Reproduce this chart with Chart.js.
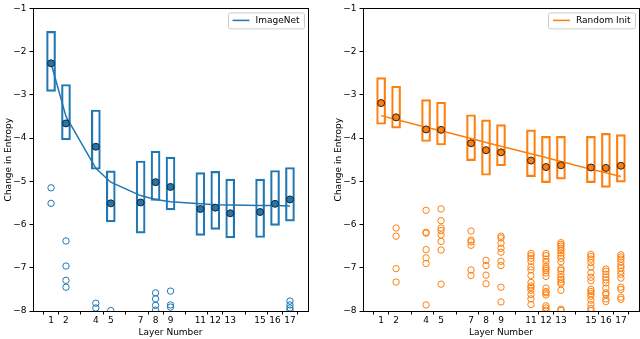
<!DOCTYPE html>
<html>
<head>
<meta charset="utf-8">
<script src="https://cdn.jsdelivr.net/npm/chart.js@4"></script>
<style>
  body { margin: 0; background: #fff; }
  .panel { position: absolute; top: 0; }
</style>
</head>
<body>
<div class="panel" style="left:0px"><canvas id="izq" width="320" height="339"></canvas></div>
<div class="panel" style="left:330px"><canvas id="der" width="310" height="339"></canvas></div>
<script>
// capas del eje x (tambien son las etiquetas)
const layers = [1, 2, 4, 5, 7, 8, 9, 11, 12, 13, 15, 16, 17];
const yTicks = [-8, -7, -6, -5, -4, -3, -2, -1];

// ImageNet
const inBoxLow = [-2.92, -4.04, -4.72, -5.94, -6.20, -5.44, -5.66, -6.25, -6.11, -6.31, -6.30, -6.02, -5.92];
const inBoxHigh = [-1.53, -2.76, -3.35, -4.76, -4.53, -4.30, -4.44, -4.80, -4.77, -4.95, -4.95, -4.75, -4.68];
const inMean = [-2.27, -3.66, -4.20, -5.51, -5.49, -5.02, -5.13, -5.64, -5.61, -5.74, -5.71, -5.52, -5.42];
const inFit = [-2.27, -3.50, -4.70, -5.02, -5.33, -5.42, -5.47, -5.52, -5.54, -5.55, -5.56, -5.56, -5.57];
const inOutliers = [
  [-5.15, -5.51],
  [-6.38, -6.96, -7.29, -7.45],
  [-7.82, -7.93],
  [-7.99],
  [],
  [-7.58, -7.72, -7.87, -7.98],
  [-7.54, -7.86, -7.91],
  [], [], [], [], [],
  [-7.77, -7.86, -7.93, -7.98]
];

// Random Init
const rnBoxLow = [-3.68, -3.77, -4.08, -4.16, -4.52, -4.86, -4.64, -4.89, -5.03, -4.95, -5.03, -5.14, -5.02];
const rnBoxHigh = [-2.60, -2.80, -3.11, -3.17, -3.46, -3.58, -3.69, -3.81, -3.96, -3.96, -3.96, -3.89, -3.92];
const rnMean = [-3.19, -3.52, -3.80, -3.81, -4.12, -4.28, -4.33, -4.52, -4.67, -4.63, -4.68, -4.69, -4.64];
const rnFit = [-3.48, -3.57, -3.75, -3.83, -4.01, -4.10, -4.19, -4.36, -4.45, -4.54, -4.72, -4.80, -4.89];
const rnOutliers = [
  [],
  [-6.08, -6.27, -7.02, -7.33],
  [-5.67, -6.18, -6.20, -6.58, -6.77, -6.90, -7.86],
  [-5.64, -5.91, -6.08, -6.14, -6.24, -6.39, -6.59, -7.38],
  [-6.15, -6.36, -6.40, -6.48, -7.05, -7.18],
  [-6.83, -6.95, -7.17, -7.37],
  [-6.27, -6.31, -6.43, -6.55, -6.64, -6.85, -6.95, -7.45, -7.79],
  [-6.67, -6.72, -6.78, -6.85, -6.98, -7.05, -7.18, -7.34, -7.42, -7.46, -7.52, -7.62, -7.72, -7.85],
  [-6.67, -6.72, -6.80, -6.87, -6.97, -7.02, -7.06, -7.12, -7.20, -7.47, -7.55, -7.58, -7.63, -7.88, -7.93, -7.98],
  [-6.42, -6.46, -6.50, -6.55, -6.60, -6.66, -6.72, -6.78, -6.86, -7.02, -7.06, -7.15, -7.22, -7.27, -7.33, -7.37, -7.52, -7.96, -7.99],
  [-6.69, -6.74, -6.80, -6.88, -6.98, -7.12, -7.22, -7.30, -7.50, -7.55, -7.60, -7.66, -7.75, -7.85, -7.94, -7.99],
  [-7.03, -7.08, -7.15, -7.22, -7.28, -7.35, -7.47, -7.58, -7.62, -7.72, -7.78],
  [-6.70, -6.75, -6.80, -6.87, -6.95, -7.00, -7.08, -7.15, -7.24, -7.45, -7.50, -7.68, -7.73]
];

const FONT = "'DejaVu Sans', sans-serif";
Chart.defaults.font.family = FONT;
Chart.defaults.font.size = 9;
Chart.defaults.color = '#000';

// marco negro alrededor del area + leyenda arriba a la derecha (como matplotlib)
const marco = {
  id: 'marco',
  afterDraw(chart) {
    const ctx = chart.ctx;
    const a = chart.chartArea;
    ctx.save();
    ctx.strokeStyle = '#000';
    ctx.lineWidth = 1;
    ctx.strokeRect(Math.round(a.left) + 0.5, Math.round(a.top) + 0.5, Math.round(a.right - a.left), Math.round(a.bottom - a.top));

    const ds = chart.data.datasets.find(d => d.type === 'line');
    ctx.font = '9px ' + FONT;
    const tw = ctx.measureText(ds.label).width;
    const frameRight = a.right - 4.5;
    const textEnd = frameRight - 4;
    const textStart = textEnd - tw;
    const lineEnd = textStart - 6;
    const lineStart = lineEnd - 17;
    const frameLeft = lineStart - 5;
    const cy = a.top + 12;
    ctx.strokeStyle = '#ccc';
    ctx.beginPath();
    ctx.roundRect(Math.round(frameLeft) + 0.5, a.top + 4.5, Math.round(frameRight - frameLeft), 16, 2);
    ctx.stroke();
    ctx.strokeStyle = ds.borderColor;
    ctx.lineWidth = 1.5;
    ctx.beginPath();
    ctx.moveTo(lineStart, cy);
    ctx.lineTo(lineEnd, cy);
    ctx.stroke();
    ctx.fillStyle = '#000';
    ctx.textBaseline = 'middle';
    ctx.fillText(ds.label, textStart, cy);
    ctx.restore();
  }
};

function makePanel(id, label, color, boxLow, boxHigh, means, fit, outliers, padRight) {
  const boxes = layers.map((l, i) => ({ x: l, y: [boxLow[i], boxHigh[i]] }));
  const dots = layers.map((l, i) => ({ x: l, y: means[i] }));
  const curve = layers.map((l, i) => ({ x: l, y: fit[i] }));
  const flier = [];
  layers.forEach((l, i) => outliers[i].forEach(v => flier.push({ x: l, y: v })));

  return new Chart(document.getElementById(id), {
    type: 'bar',
    data: {
      datasets: [
        { type: 'scatter', label: 'mean', data: dots, order: 0,
          pointRadius: 3.5, backgroundColor: color, borderColor: '#222', borderWidth: 1 },
        { type: 'line', label: label, data: curve, order: 1,
          borderColor: color, backgroundColor: color, borderWidth: 1.5, pointRadius: 0, tension: 0 },
        { type: 'bar', label: 'box', data: boxes, order: 2,
          barThickness: 9, borderWidth: 1.5, borderSkipped: false,
          borderColor: color, backgroundColor: 'rgba(0,0,0,0)' },
        { type: 'scatter', label: 'flier', data: flier, order: 3,
          pointRadius: 3.2, backgroundColor: 'rgba(0,0,0,0)', borderColor: color, borderWidth: 1 }
      ]
    },
    options: {
      responsive: false,
      animation: false,
      layout: { autoPadding: false, padding: { top: 3, right: padRight, left: 0, bottom: 0 } },
      plugins: {
        tooltip: { enabled: false },
        legend: { display: false }
      },
      scales: {
        x: {
          type: 'linear',
          min: 0.5,
          max: 17.5,
          afterBuildTicks: s => { s.ticks = layers.map(v => ({ value: v })); },
          afterFit: s => { s.height = 28; },
          ticks: { autoSkip: false, maxRotation: 0, padding: 1, callback: v => String(v) },
          grid: { display: true, drawOnChartArea: false, drawTicks: true, tickLength: 3.5, tickColor: '#000' },
          border: { display: true, color: '#000' },
          title: { display: true, text: 'Layer Number', padding: { top: 0, bottom: 1 } }
        },
        y: {
          min: -8,
          max: -1,
          afterBuildTicks: s => { s.ticks = yTicks.map(v => ({ value: v })); },
          afterFit: s => { s.width = 33; },
          ticks: { padding: 3, callback: v => String(v).replace('-', '\u2212') },
          grid: { display: true, drawOnChartArea: false, drawTicks: true, tickLength: 3.5, tickColor: '#000' },
          border: { display: true, color: '#000' },
          title: { display: true, text: 'Change in Entropy', padding: { top: 3, bottom: 0 } }
        }
      }
    },
    plugins: [marco]
  });
}

makePanel('izq', 'ImageNet', '#1f77b4', inBoxLow, inBoxHigh, inMean, inFit, inOutliers, 12);
makePanel('der', 'Random Init', '#ff7f0e', rnBoxLow, rnBoxHigh, rnMean, rnFit, rnOutliers, 1);
</script>
</body>
</html>
